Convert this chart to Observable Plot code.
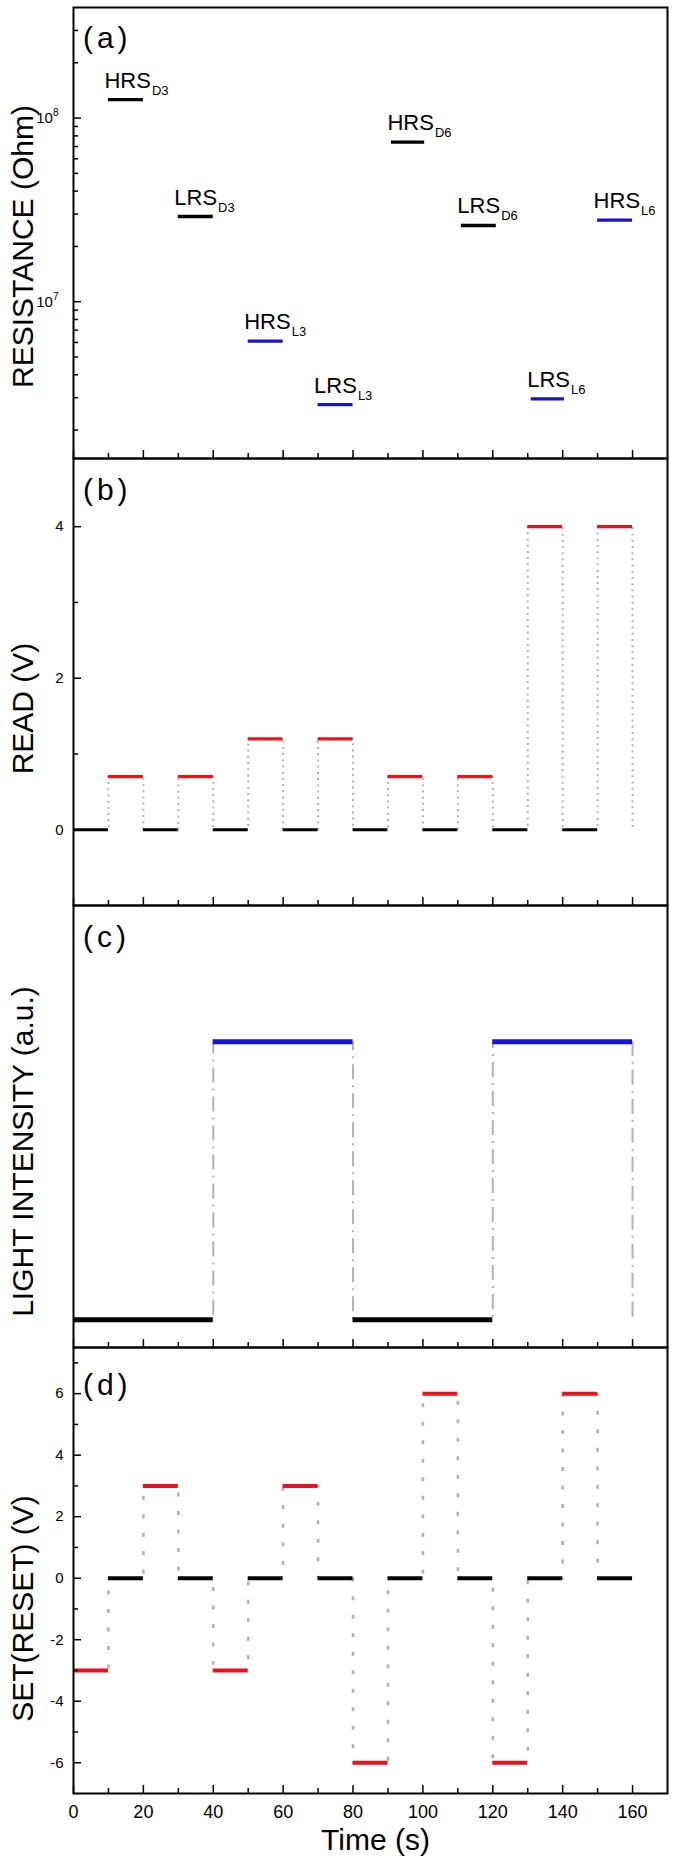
<!DOCTYPE html>
<html>
<head>
<meta charset="utf-8">
<script src="https://cdn.jsdelivr.net/npm/d3@7"></script>
<script src="https://cdn.jsdelivr.net/npm/@observablehq/plot@0.6"></script>
<style>
  html, body { margin: 0; padding: 0; background: #fff; }
  #chart { position: relative; width: 675px; height: 1861px; background: #fff; overflow: hidden; }
</style>
</head>
<body>
<div id="chart"></div>
<script>
// ---------------- data ----------------
const timeStarts = [0, 10, 20, 30, 40, 50, 60, 70, 80, 90, 100, 110, 120, 130, 140, 150, 160];
const readVolts  = [0, 0.7, 0, 0.7, 0, 1.2, 0, 1.2, 0, 0.7, 0, 0.7, 0, 4, 0, 4, 0];
const setVolts   = [-3, 0, 3, 0, -3, 0, 3, 0, -6, 0, 6, 0, -6, 0, 6, 0, 0];
const lightTimes  = [0, 40, 80, 120, 160];
const lightLevels = [0, 1, 0, 1, 0];

const resStates = ["HRS", "LRS", "HRS", "LRS", "HRS", "LRS", "LRS", "HRS"];
const resSubs   = ["D3", "D3", "L3", "L3", "D6", "D6", "L6", "L6"];
const resStart  = [10, 30, 50, 70, 91, 111, 131, 150];
const resEnd    = [20, 40, 60, 80, 100.5, 121, 140.5, 160];
const resOhm    = [1.26e8, 2.91e7, 6.1e6, 2.75e6, 7.4e7, 2.6e7, 2.96e6, 2.78e7];
const resIllum  = ["dark", "dark", "light", "light", "dark", "dark", "light", "light"];

const xMajor = [0, 20, 40, 60, 80, 100, 120, 140, 160];
const xMinor = [10, 30, 50, 70, 90, 110, 130, 150];
const resMajor = [1e7, 1e8];
const resMinor = [2e6, 3e6, 4e6, 5e6, 6e6, 7e6, 8e6, 9e6, 2e7, 3e7, 4e7, 5e7, 6e7, 7e7, 8e7, 9e7, 2e8, 3e8];
const readMajor = [0, 2, 4];
const readMinor = [1, 3];
const setMajor = [-6, -4, -2, 0, 2, 4, 6];
const setMinor = [-5, -3, -1, 1, 3, 5, 7];

const panelLabels = ["(a)", "(b)", "(c)", "(d)"];
const yTitles = ["RESISTANCE (Ohm)", "READ (V)", "LIGHT INTENSITY (a.u.)", "SET(RESET) (V)"];
const xTitle = "Time (s)";

// ---------------- style ----------------
const W = 675, ML = 73, MR = 8;
const RED = "#e8141b", BLUE = "#1414d2", GREY = "#b3b3b3";
const FONT = "'Liberation Sans', Arial, Helvetica, sans-serif";
const chart = document.getElementById("chart");

const steps = (t, v) => t.map((d, i) => ({t: d, v: v[i]}));
const segs = (t, v) => t.slice(0, -1).map((d, i) => ({t0: d, t1: t[i + 1], v: v[i]}));

const base = (h, mb = 0) => ({
  width: W, height: h + mb,
  marginLeft: ML, marginRight: MR, marginTop: 0, marginBottom: mb,
  style: {background: "transparent", overflow: "visible", fontFamily: FONT, color: "black"},
  x: {domain: [0, 170]}
});

function xAxes(labels) {
  return [
    Plot.axisX(xMajor, labels
      ? {anchor: "bottom", tickSize: -8, tickPadding: 19.5, strokeWidth: 1.5, fontSize: 18, tickFormat: d => String(d), label: null}
      : {anchor: "bottom", tickSize: -8, strokeWidth: 1.5, fill: "none", label: null}),
    Plot.axisX(xMinor, {anchor: "bottom", tickSize: -5, strokeWidth: 1.5, fill: "none", label: null})
  ];
}
function yAxes(major, minor, fmt, pad = 18) {
  return [
    Plot.axisY(major, {anchor: "left", tickSize: -8, tickPadding: pad, strokeWidth: 1.5, fontSize: 15, tickFormat: fmt, label: null}),
    Plot.axisY(minor, {anchor: "left", tickSize: -5, strokeWidth: 1.5, fill: "none", label: null})
  ];
}
function decor(i, labelDy, titleDy) {
  return [
    Plot.frame({stroke: "black", strokeWidth: 2}),
    Plot.text([panelLabels[i]], {text: d => d, frameAnchor: "top-left", dx: 9.4, dy: labelDy,
      textAnchor: "start", lineAnchor: "bottom", fontSize: 30}),
    Plot.text([yTitles[i]], {text: d => d, frameAnchor: "left", rotate: -90, dx: -40.8, dy: titleDy,
      textAnchor: "middle", lineAnchor: "bottom", fontSize: 30})
  ];
}
function place(svg, top) {
  svg.style.position = "absolute";
  svg.style.left = "0px";
  svg.style.top = top + "px";
  [...svg.querySelectorAll("text")].filter(t => /^\([a-d]\)$/.test(t.textContent))
    .forEach(t => t.setAttribute("letter-spacing", "4"));
  chart.appendChild(svg);
}
function tspan(txt, size, dy, dx) {
  const ts = document.createElementNS("http://www.w3.org/2000/svg", "tspan");
  ts.setAttribute("font-size", size);
  ts.setAttribute("dy", dy);
  if (dx) ts.setAttribute("dx", dx);
  ts.textContent = txt;
  return ts;
}

// ---------------- (a) resistance ----------------
const resData = resStates.map((s, i) => ({state: s, sub: resSubs[i], t0: resStart[i], t1: resEnd[i], ohm: resOhm[i], illum: resIllum[i]}));
const plotA = Plot.plot({
  ...base(451),
  y: {type: "log", domain: [1.4e6, 4e8]},
  marks: [
    Plot.ruleY(resData.filter(d => d.illum === "dark"), {x1: "t0", x2: "t1", y: "ohm", stroke: "black", strokeWidth: 3.3}),
    Plot.ruleY(resData.filter(d => d.illum === "light"), {x1: "t0", x2: "t1", y: "ohm", stroke: BLUE, strokeWidth: 3.3}),
    Plot.text(resData, {x: "t0", y: "ohm", text: "state", dx: -4, dy: -12, textAnchor: "start", lineAnchor: "bottom", fontSize: 22}),
    ...yAxes(resMajor, resMinor, d => "10^" + Math.round(Math.log10(d)), 23),
    ...xAxes(false),
    ...decor(0, 40, 13.5)
  ]
});
[...plotA.querySelectorAll("text")].filter(t => resStates.includes(t.textContent))
  .forEach((t, i) => t.appendChild(tspan(resData[i].sub, 13, 7, 1)));
[...plotA.querySelectorAll("text")].filter(t => /^10\^\d+$/.test(t.textContent))
  .forEach(t => { const [b, e] = t.textContent.split("^"); t.textContent = b; t.appendChild(tspan(e, 10, -7)); });
place(plotA, 7);

// ---------------- (b) read ----------------
const readSeg = segs(timeStarts, readVolts);
const plotB = Plot.plot({
  ...base(447),
  y: {domain: [-1, 4.9]},
  marks: [
    Plot.line(steps(timeStarts, readVolts), {x: "t", y: "v", curve: "step-after", stroke: GREY, strokeWidth: 2, strokeDasharray: "2,4.2", strokeLinecap: "butt"}),
    Plot.ruleY(readSeg.filter(d => d.v === 0), {x1: "t0", x2: "t1", y: "v", stroke: "black", strokeWidth: 3.2}),
    Plot.ruleY(readSeg.filter(d => d.v !== 0), {x1: "t0", x2: "t1", y: "v", stroke: RED, strokeWidth: 3.2}),
    ...yAxes(readMajor, readMinor, d => String(d)),
    ...xAxes(false),
    ...decor(1, 41, 26.5)
  ]
});
place(plotB, 458);

// ---------------- (c) light ----------------
const lightSeg = segs(lightTimes, lightLevels);
const plotC = Plot.plot({
  ...base(442),
  y: {domain: [-0.1, 1.49], axis: null},
  marks: [
    Plot.line(steps(lightTimes, lightLevels), {x: "t", y: "v", curve: "step-after", stroke: GREY, strokeWidth: 2, strokeDasharray: "15,6,2,6", strokeLinecap: "butt"}),
    Plot.ruleY(lightSeg.filter(d => d.v === 0), {x1: "t0", x2: "t1", y: "v", stroke: "black", strokeWidth: 5}),
    Plot.ruleY(lightSeg.filter(d => d.v !== 0), {x1: "t0", x2: "t1", y: "v", stroke: BLUE, strokeWidth: 5}),
    ...xAxes(false),
    ...decor(2, 41, 25)
  ]
});
place(plotC, 905);

// ---------------- (d) set / reset ----------------
const setSeg = segs(timeStarts, setVolts);
const plotD = Plot.plot({
  ...base(446, 68),
  y: {domain: [-7, 7.5]},
  marks: [
    Plot.line(steps(timeStarts, setVolts), {x: "t", y: "v", curve: "step-after", stroke: GREY, strokeWidth: 2.6, strokeDasharray: "4,14.5", strokeLinecap: "butt"}),
    Plot.ruleY(setSeg.filter(d => d.v === 0), {x1: "t0", x2: "t1", y: "v", stroke: "black", strokeWidth: 4}),
    Plot.ruleY(setSeg.filter(d => d.v !== 0), {x1: "t0", x2: "t1", y: "v", stroke: RED, strokeWidth: 4}),
    ...yAxes(setMajor, setMinor, d => String(d)),
    ...xAxes(true),
    Plot.text([xTitle], {text: d => d, frameAnchor: "bottom", dx: 5, dy: 56.6, textAnchor: "middle", lineAnchor: "bottom", fontSize: 30}),
    ...decor(3, 47, 38)
  ]
});
place(plotD, 1347);
</script>
</body>
</html>
